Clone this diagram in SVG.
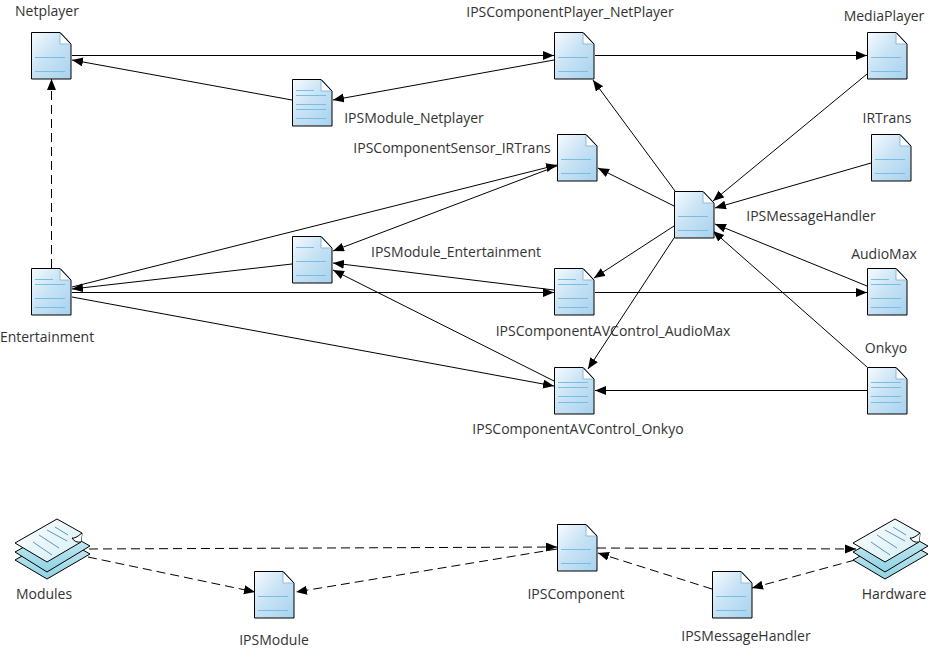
<svg xmlns="http://www.w3.org/2000/svg" width="930" height="650" viewBox="0 0 930 650">
<style>
text{font-family:"Open Sans","Noto Sans","Liberation Sans",sans-serif;font-size:14px;fill:#333;text-anchor:middle}
.c line{stroke:#000;stroke-width:1;marker-end:url(#a);fill:none}
.d line{stroke-dasharray:9 5}
.n{stroke:#79bde2;fill:none}
</style>
<defs>
<linearGradient id="g" x1="0" y1="0" x2="1" y2="1"><stop offset="0" stop-color="#f6fbfe"/><stop offset=".45" stop-color="#c9e3f5"/><stop offset="1" stop-color="#a6d2ee"/></linearGradient>
<linearGradient id="h" x1="0" y1="0" x2="1" y2="1"><stop offset="0" stop-color="#ffffff"/><stop offset="1" stop-color="#d2eef5"/></linearGradient>
<linearGradient id="k" x1="0" y1="0" x2="0" y2="1"><stop offset="0" stop-color="#d5f0f5"/><stop offset="1" stop-color="#8fd3e3"/></linearGradient>
<marker id="a" markerUnits="userSpaceOnUse" markerWidth="12" markerHeight="10" refX="11" refY="4.5" orient="auto"><path d="M0 0L11 4.5L0 9z" fill="#000"/></marker>
<g id="page">
<path d="M.5 .5H29L40 12V47H.5z" fill="url(#g)" stroke="#000"/>
<path d="M29 1V12H39.5z" fill="#fff" stroke="#8fb9d8"/>
<path d="M29 .5L40 12" stroke="#000" fill="none"/>
</g>
<g id="doc"><use href="#page"/><path class="n" d="M4 25.5H34M4 39.5H34"/></g>
<g id="doc3"><use href="#page"/><path class="n" d="M4 11.5H22M4 25.5H34M4 39.5H34"/></g>
<g id="doc4"><use href="#page"/><path class="n" d="M4 11.5H22M4 16.5H34M4 30.5H34M4 39.5H34"/></g>
<g id="doc4b"><use href="#page"/><path class="n" d="M4 15.5H34M4 20.5H34M4 29.5H34M4 35.5H34"/></g>
<g id="doc5"><use href="#page"/><path class="n" d="M4 11.5H22M4 16.5H34M4 25.5H34M4 30.5H34M4 39.5H34"/></g>
<g id="docs">
<path d="M0 41L43 17L75 35L32 60z" fill="url(#k)" stroke="#000"/>
<path d="M0 33L43 9L75 27L32 53z" fill="url(#k)" stroke="#000"/>
<path d="M0 24L42 0L67 14L66 23L32 43z" fill="url(#h)" stroke="#000" stroke-linejoin="round"/>
<path d="M67 14Q60 20 57 19Q60 24 66 23" fill="#fff" stroke="#000"/>
<path d="M18 23L37 36M24 16L44 29M32 11L52 22M40 8L53 16" stroke="#5f93b8" fill="none"/>
</g>
</defs>
<g id="connectors" class="c">
<line x1="72" y1="55.5" x2="554" y2="55.5"/>
<line x1="554" y1="60" x2="333" y2="100"/>
<line x1="292" y1="100" x2="72" y2="60"/>
<line x1="595" y1="55.5" x2="867" y2="55.5"/>
<line x1="675" y1="191" x2="593" y2="80"/>
<line x1="867" y1="74" x2="713" y2="201"/>
<line x1="871" y1="163" x2="715" y2="208"/>
<line x1="674" y1="206" x2="598" y2="168"/>
<line x1="867" y1="286" x2="715" y2="224"/>
<line x1="867" y1="367" x2="713" y2="231"/>
<line x1="674" y1="226" x2="594" y2="278"/>
<line x1="674" y1="238" x2="588" y2="369"/>
<line x1="867" y1="390.5" x2="595" y2="390.5"/>
<line x1="595" y1="292.5" x2="867" y2="292.5"/>
<line x1="72" y1="292.5" x2="554" y2="292.5"/>
<line x1="554" y1="290" x2="333" y2="263"/>
<line x1="554" y1="381" x2="333" y2="270"/>
<line x1="557" y1="166" x2="333" y2="251"/>
<line x1="72" y1="287" x2="557" y2="165"/>
<line x1="292" y1="264" x2="72" y2="289"/>
<line x1="72" y1="297" x2="554" y2="386"/>
</g>
<g id="dashed" class="c d">
<line x1="51.5" y1="268" x2="51.5" y2="79"/>
<line x1="89" y1="549" x2="557" y2="547"/>
<line x1="88" y1="557" x2="255" y2="592"/>
<line x1="557" y1="549" x2="296" y2="592"/>
<line x1="597" y1="548" x2="856" y2="549"/>
<line x1="712" y1="589" x2="598" y2="553"/>
<line x1="855" y1="560" x2="752" y2="588"/>
</g>
<g id="Netplayer"><use href="#doc" x="31" y="32"/><text x="47" y="16">Netplayer</text></g>
<g id="IPSComponentPlayer_NetPlayer"><use href="#doc" x="554" y="32"/><text x="570" y="17">IPSComponentPlayer_NetPlayer</text></g>
<g id="MediaPlayer"><use href="#doc" x="867" y="32"/><text x="884" y="21">MediaPlayer</text></g>
<g id="IPSModule_Netplayer"><use href="#doc5" x="292" y="79"/><text x="414" y="123">IPSModule_Netplayer</text></g>
<g id="IPSComponentSensor_IRTrans"><use href="#doc" x="557" y="134"/><text x="452" y="153">IPSComponentSensor_IRTrans</text></g>
<g id="IRTrans"><use href="#doc" x="871" y="134"/><text x="887" y="123">IRTrans</text></g>
<g id="IPSMessageHandler"><use href="#doc" x="674" y="191"/><text x="811" y="221">IPSMessageHandler</text></g>
<g id="IPSModule_Entertainment"><use href="#doc3" x="292" y="236"/><text x="456" y="257">IPSModule_Entertainment</text></g>
<g id="Entertainment"><use href="#doc4" x="31" y="268"/><text x="47" y="342">Entertainment</text></g>
<g id="IPSComponentAVControl_AudioMax"><use href="#doc4" x="554" y="268"/><text x="613" y="336">IPSComponentAVControl_AudioMax</text></g>
<g id="AudioMax"><use href="#doc4" x="867" y="268"/><text x="884" y="259">AudioMax</text></g>
<g id="Onkyo"><use href="#doc4b" x="867" y="367"/><text x="886" y="353">Onkyo</text></g>
<g id="IPSComponentAVControl_Onkyo"><use href="#doc4b" x="554" y="367"/><text x="578" y="434">IPSComponentAVControl_Onkyo</text></g>
<g id="Modules"><use href="#docs" x="15" y="519"/><text x="44" y="599">Modules</text></g>
<g id="IPSModule"><use href="#doc" x="254" y="571"/><text x="274" y="645">IPSModule</text></g>
<g id="IPSComponent"><use href="#doc" x="557" y="524"/><text x="576" y="599">IPSComponent</text></g>
<g id="IPSMessageHandler2"><use href="#doc" x="712" y="571"/><text x="746" y="641">IPSMessageHandler</text></g>
<g id="Hardware"><use href="#docs" x="853" y="519"/><text x="894" y="599">Hardware</text></g>
</svg>
